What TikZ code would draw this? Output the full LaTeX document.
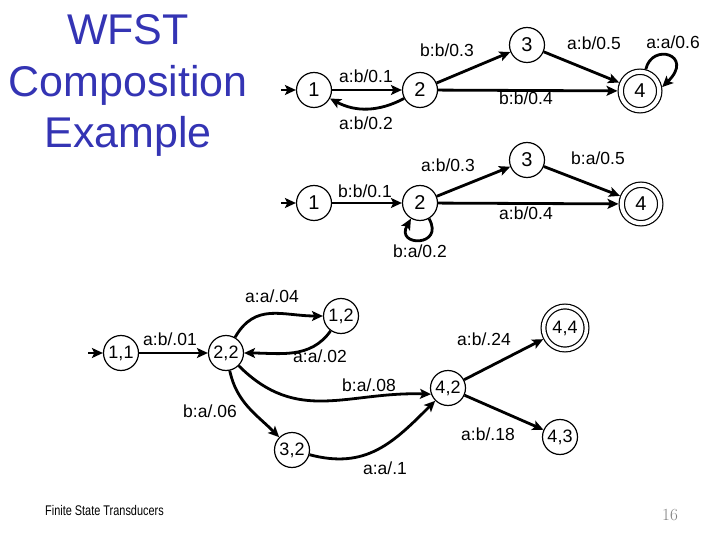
\documentclass[tikz,border=0pt]{standalone}
\usepackage{fontspec}
\setmainfont{Liberation Sans}
\newfontfamily\footfont[FakeStretch=0.78]{Liberation Sans}
\usetikzlibrary{arrows.meta}
\definecolor{titleblue}{RGB}{52,52,180}
\begin{document}
\begin{tikzpicture}[x=1pt,y=1pt,
  st/.style={circle,draw,line width=1.2pt,minimum size=35pt,inner sep=0pt,font=\fontsize{20}{21}\selectfont},
  cst/.style={st,font=\fontsize{18}{19}\selectfont},
  fin/.style={double,double distance=4.1pt,minimum size=38.5pt,outer sep=3.25pt},
  cfin/.style={double,double distance=3.6pt,minimum size=43pt,outer sep=3pt},
  edge/.style={line width=2.8pt,-{Stealth[length=11pt,width=10pt,inset=2.5pt]}},
  lab/.style={font=\fontsize{17.5}{18}\selectfont,inner sep=0pt,anchor=base},
  ttl/.style={font=\fontsize{43}{50}\selectfont,text=titleblue,inner sep=0pt,anchor=base},
]
\fill[white] (0,0) rectangle (720,-540);
\useasboundingbox (0,0) rectangle (720,-540);

% title
\node[ttl] (t1) at (128,-45) {WFST};
\node[ttl] (t2) at (128,-97) {Composition};
\node[ttl] (t3) at (128,-148) {Example};

% first transducer
\node[st] (n1) at (314,-90) {1};
\node[st] (n2) at (420,-90) {2};
\node[st] (n3) at (527,-45) {3};
\node[st,fin] (n4) at (640,-91) {4};
\coordinate (s1) at (281,-90);
\draw[edge] (s1) -- (n1);
\draw[edge] (n1) -- (n2);
\draw[edge] (n2) to[bend left=28] (n1);
\draw[edge] (n2) -- (n3);
\draw[edge] (n3) -- (n4);
\draw[edge] (n2) -- (n4);
\draw[edge] (n4.75) .. controls (652,-42) and (695,-55) .. (n4.10);
\node[lab] (l1) at (366,-83) {a:b/0.1};
\node[lab] (l2) at (366,-130) {a:b/0.2};
\node[lab] (l3) at (447,-57) {b:b/0.3};
\node[lab] (l4) at (594,-50) {a:b/0.5};
\node[lab] (l5) at (673,-49) {a:a/0.6};
\node[lab] (l6) at (526,-105) {b:b/0.4};

% second transducer
\node[st] (m1) at (314,-203) {1};
\node[st] (m2) at (420,-203) {2};
\node[st] (m3) at (527,-160) {3};
\node[st,fin] (m4) at (641,-204) {4};
\coordinate (s2) at (281,-203);
\draw[edge] (s2) -- (m1);
\draw[edge] (m1) -- (m2);
\draw[edge] (m2) -- (m3);
\draw[edge] (m3) -- (m4);
\draw[edge] (m2) -- (m4);
\draw[edge] (m2.-60) .. controls (445,-247) and (395,-247) .. (m2.-120);
\node[lab] (k1) at (365,-197) {b:b/0.1};
\node[lab] (k2) at (448,-172) {a:b/0.3};
\node[lab] (k3) at (598,-165) {b:a/0.5};
\node[lab] (k4) at (526,-220) {a:b/0.4};
\node[lab] (k5) at (420,-257) {b:a/0.2};

% composition
\node[cst] (c11) at (121,-353) {1,1};
\node[cst] (c22) at (226,-353) {2,2};
\node[cst] (c12) at (341,-316) {1,2};
\node[cst] (c42) at (448,-388) {4,2};
\node[cst,cfin] (c44) at (565,-328) {4,4};
\node[cst] (c43) at (560,-437) {4,3};
\node[cst] (c32) at (292,-450) {3,2};
\coordinate (s3) at (88,-353);
\draw[edge] (s3) -- (c11);
\draw[edge] (c11) -- (c22);
\draw[edge] (c22) to[out=60,in=180,looseness=1.15] (c12);
\draw[edge] (c12) to[out=-125,in=0] (c22);
\draw[edge] (c22) to[out=-45,in=178,looseness=1.1] (c42.200);
\draw[edge] (c22) to[out=-78,in=135] (c32);
\draw[edge] (c32) to[out=-15,in=-135,looseness=1.1] (c42);
\draw[edge] (c42) -- (c44);
\draw[edge] (c42) -- (c43);
\node[lab] (d1) at (272,-302) {a:a/.04};
\node[lab] (d2) at (170,-345) {a:b/.01};
\node[lab] (d3) at (320,-362) {a:a/.02};
\node[lab] (d4) at (369,-391) {b:a/.08};
\node[lab] (d5) at (484,-345) {a:b/.24};
\node[lab] (d6) at (210,-417) {b:a/.06};
\node[lab] (d7) at (488,-440) {a:b/.18};
\node[lab] (d8) at (385,-474) {a:a/.1};

% footer
\node[font=\footfont\fontsize{14}{15}\selectfont,inner sep=0pt,anchor=base west] (ft) at (45,-515) {Finite State Transducers};
\node[font=\fontsize{17}{18}\selectfont,text=gray,inner sep=0pt,anchor=base] (pg) at (670,-520) {\fontspec{Latin Modern Roman}16};
\end{tikzpicture}
\end{document}
